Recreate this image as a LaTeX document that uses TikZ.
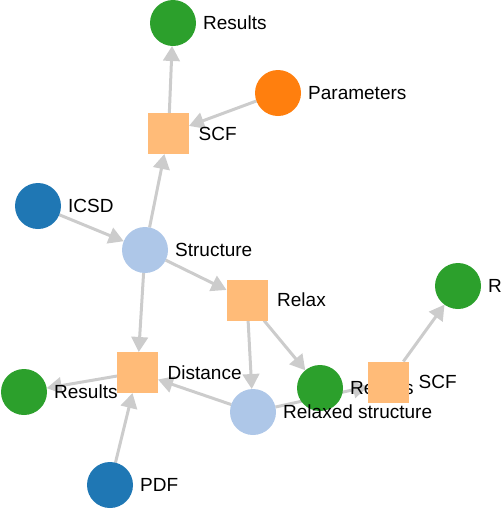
\documentclass[tikz,border=0pt]{standalone}
\usepackage{fontspec}
\setmainfont{Liberation Sans}
\usepackage{tikz}
\usetikzlibrary{arrows.meta,backgrounds}
\definecolor{linkGray}   {RGB}{204,204,204}
\definecolor{srcBlue}    {RGB}{31, 119,180}
\definecolor{dataBlue}   {RGB}{174,199,232}
\definecolor{paramOrange}{RGB}{255,127,14}
\definecolor{calcOrange} {RGB}{255,187,120}
\definecolor{resGreen}   {RGB}{44, 160,44}
\tikzset{
  datanode/.style={circle,fill=#1,minimum size=46pt,inner sep=0pt,outer sep=0pt},
  calcnode/.style={rectangle,fill=calcOrange,minimum size=41pt,inner sep=0pt,outer sep=0pt},
  txt/.style={anchor=base west,inner sep=0pt,font=\fontsize{19}{19}\selectfont},
  link/.style={linkGray,line width=3pt,-{Triangle[length=15pt,width=16.5pt]}}
}
\begin{document}
\begin{tikzpicture}[x=1pt,y=-1pt]
        \useasboundingbox (0,0) rectangle (502,509);
        % Nos (cada um com o seu texto logo depois)
        \node[datanode=resGreen] (res1) at (173,23) {};
        \node[txt] (res1-t) at ([shift={(30pt,-6.6pt)}]res1.center) {Results};
        \node[datanode=paramOrange] (param) at (278,93) {};
        \node[txt] (param-t) at ([shift={(30pt,-6.6pt)}]param.center) {Parameters};
        \node[calcnode] (scf1) at (168.5,133.5) {};
        \node[txt] (scf1-t) at ([shift={(30pt,-6.6pt)}]scf1.center) {SCF};
        \node[datanode=srcBlue] (icsd) at (38,206) {};
        \node[txt] (icsd-t) at ([shift={(30pt,-6.6pt)}]icsd.center) {ICSD};
        \node[datanode=dataBlue] (struct) at (145,250) {};
        \node[txt] (struct-t) at ([shift={(30pt,-6.6pt)}]struct.center) {Structure};
        \node[calcnode] (relax) at (247,300) {};
        \node[txt] (relax-t) at ([shift={(30pt,-6.6pt)}]relax.center) {Relax};
        \node[datanode=resGreen] (res4) at (458,286) {};
        \node[txt] (res4-t) at ([shift={(30pt,-6.6pt)}]res4.center) {R};
        \node[calcnode] (dist) at (137.5,372.5) {};
        \node[txt] (dist-t) at ([shift={(30pt,-6.6pt)}]dist.center) {Distance};
        \node[datanode=resGreen] (res2) at (24,392) {};
        \node[txt] (res2-t) at ([shift={(30pt,-6.6pt)}]res2.center) {Results};
        \node[datanode=srcBlue] (pdf) at (110,485) {};
        \node[txt] (pdf-t) at ([shift={(30pt,-6.6pt)}]pdf.center) {PDF};
        \node[datanode=resGreen] (res3) at (320,388) {};
        \node[txt] (res3-t) at ([shift={(30pt,-6.6pt)}]res3.center) {Results};
        \node[datanode=dataBlue] (relaxed) at (253,412) {};
        \node[txt] (relaxed-t) at ([shift={(30pt,-6.6pt)}]relaxed.center) {Relaxed structure};
        \node[calcnode] (scf2) at (388.5,382) {};
        \node[txt] (scf2-t) at ([shift={(30pt,-6.6pt)}]scf2.center) {SCF};

        % Arestas
        \begin{scope}[on background layer]
          \draw[link] (scf1) -- (res1);
          \draw[link] (param) -- (scf1);
          \draw[link] (struct) -- (scf1);
          \draw[link] (icsd) -- (struct);
          \draw[link] (struct) -- (relax);
          \draw[link] (struct) -- (dist);
          \draw[link] (relax) -- (relaxed);
          \draw[link] (relax) -- (res3);
          \draw[link] (relaxed) -- (dist);
          \draw[link] (dist) -- (res2);
          \draw[link] (pdf) -- (dist);
          \draw[link] (relaxed) -- (scf2);
          \draw[link] (scf2) -- (res4);
        \end{scope}
\end{tikzpicture}
\end{document}
